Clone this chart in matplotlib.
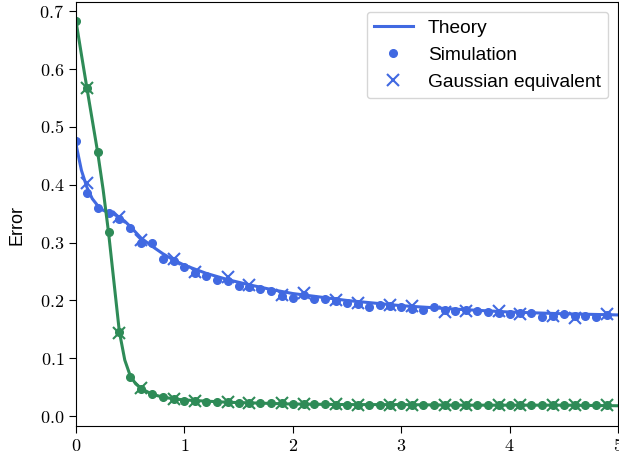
import matplotlib
matplotlib.use("Agg")
import matplotlib.pyplot as plt
import numpy as np

plt.rcParams['font.family'] = ['Liberation Sans', 'DejaVu Sans']
plt.rcParams['mathtext.fontset'] = 'cm'

# theory curves
x_theory = [0, 0.05, 0.1, 0.15, 0.2, 0.25, 0.3, 0.35, 0.4, 0.45, 0.5, 0.55, 0.6,
            0.7, 0.8, 0.9, 1.0, 1.2, 1.4, 1.6, 1.8, 2.0, 2.5, 3.0, 3.5, 4.0, 4.5, 5.0]
blue_theory = [0.470, 0.425, 0.396, 0.376, 0.364, 0.356, 0.352, 0.349, 0.344, 0.337,
               0.328, 0.318, 0.308, 0.294, 0.281, 0.270, 0.261, 0.247, 0.236, 0.227,
               0.219, 0.212, 0.200, 0.191, 0.185, 0.180, 0.177, 0.175]
green_theory = [0.683, 0.625, 0.568, 0.512, 0.456, 0.392, 0.318, 0.232, 0.146, 0.097,
                0.070, 0.056, 0.048, 0.038, 0.033, 0.030, 0.028, 0.026, 0.024, 0.023,
                0.022, 0.021, 0.020, 0.020, 0.019, 0.019, 0.019, 0.018]

# simulation points
x_sim = [0.0, 0.1, 0.2, 0.3, 0.4, 0.5, 0.6, 0.7, 0.8, 0.9,
         1.0, 1.1, 1.2, 1.3, 1.4, 1.5, 1.6, 1.7, 1.8, 1.9,
         2.0, 2.1, 2.2, 2.3, 2.4, 2.5, 2.6, 2.7, 2.8, 2.9,
         3.0, 3.1, 3.2, 3.3, 3.4, 3.5, 3.6, 3.7, 3.8, 3.9,
         4.0, 4.1, 4.2, 4.3, 4.4, 4.5, 4.6, 4.7, 4.8, 4.9]
blue_sim = [0.475, 0.386, 0.360, 0.351, 0.340, 0.326, 0.300, 0.300, 0.272, 0.268,
            0.258, 0.248, 0.242, 0.236, 0.234, 0.225, 0.224, 0.220, 0.216, 0.208,
            0.205, 0.210, 0.202, 0.202, 0.199, 0.195, 0.194, 0.189, 0.193, 0.190,
            0.189, 0.186, 0.184, 0.189, 0.183, 0.181, 0.183, 0.182, 0.180, 0.179,
            0.177, 0.178, 0.179, 0.172, 0.173, 0.176, 0.173, 0.174, 0.172, 0.175]
green_sim = [0.684, 0.567, 0.456, 0.318, 0.145, 0.068, 0.047, 0.038, 0.033, 0.030,
             0.027, 0.026, 0.025, 0.025, 0.024, 0.023, 0.023, 0.022, 0.022, 0.022,
             0.021, 0.021, 0.021, 0.021, 0.020, 0.020, 0.020, 0.020, 0.020, 0.020,
             0.020, 0.020, 0.020, 0.020, 0.020, 0.020, 0.019, 0.019, 0.019, 0.019,
             0.019, 0.019, 0.019, 0.019, 0.019, 0.019, 0.019, 0.019, 0.019, 0.019]

# gaussian equivalent points
x_gauss = [0.1, 0.4, 0.6, 0.9, 1.1, 1.4, 1.6, 1.9, 2.1, 2.4,
           2.6, 2.9, 3.1, 3.4, 3.6, 3.9, 4.1, 4.4, 4.6, 4.9]
blue_gauss = [0.403, 0.344, 0.304, 0.272, 0.250, 0.241, 0.226, 0.209, 0.213, 0.201,
              0.196, 0.192, 0.190, 0.180, 0.181, 0.181, 0.177, 0.174, 0.170, 0.176]
green_gauss = [0.568, 0.143, 0.048, 0.029, 0.026, 0.024, 0.023, 0.022, 0.021, 0.021,
               0.020, 0.020, 0.020, 0.020, 0.019, 0.019, 0.019, 0.019, 0.019, 0.019]

blue = 'royalblue'
green = 'seagreen'

fig = plt.figure(figsize=(6.19, 4.59), dpi=100)
ax = fig.add_axes([76 / 619, 33 / 459, 542 / 619, 424 / 459])

ax.plot(x_theory, blue_theory, color=blue, lw=2.2, label='Theory')
ax.plot(x_sim, blue_sim, 'o', color=blue, ms=5.5, label='Simulation')
ax.plot(x_gauss, blue_gauss, 'x', color=blue, ms=9, mew=1.5, label='Gaussian equivalent')

ax.plot(x_theory, green_theory, color=green, lw=2.2)
ax.plot(x_sim, green_sim, 'o', color=green, ms=5.5)
ax.plot(x_gauss, green_gauss, 'x', color=green, ms=9, mew=1.5)

ax.set_xlim(0, 5)
ax.set_ylim(-0.017, 0.716)
xt = [0, 1, 2, 3, 4, 5]
yt = [0.0, 0.1, 0.2, 0.3, 0.4, 0.5, 0.6, 0.7]
ax.set_xticks(xt, labels=[f'${t}$' for t in xt])
ax.set_yticks(yt, labels=[f'${t:.1f}$' for t in yt])
ax.tick_params(labelsize=13, length=5)
ax.set_ylabel('Error', fontsize=13)
ax.yaxis.set_label_coords(-0.094, 0.474)
ax.legend(loc='upper right', fontsize=13.8)

fig.savefig('out.png', dpi=100)
